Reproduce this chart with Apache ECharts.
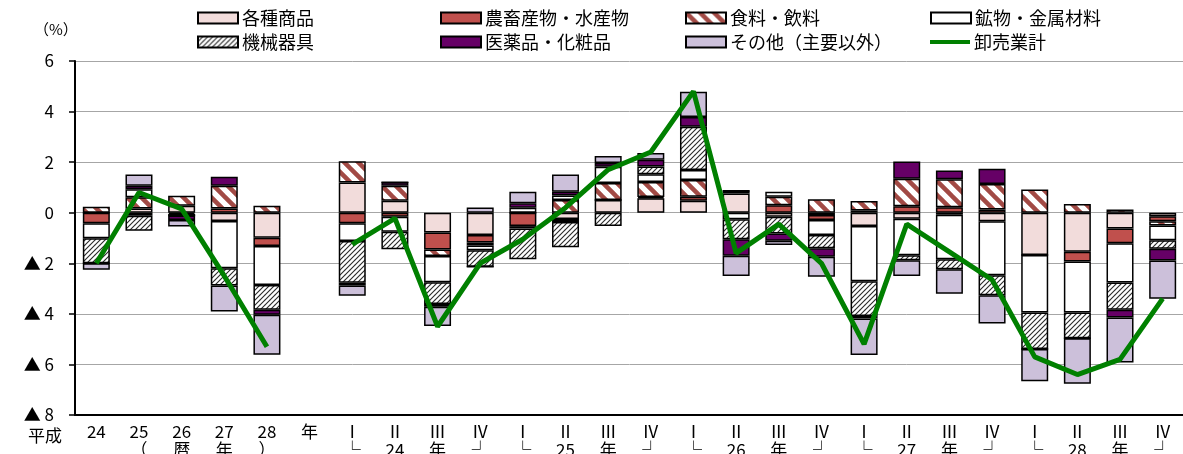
<!DOCTYPE html>
<html><head><meta charset="utf-8">
<script src="https://cdn.jsdelivr.net/npm/echarts@6/dist/echarts.min.js"></script>
<style>html,body{margin:0;padding:0;background:#fff;}#c{width:1183px;height:454px;}</style>
</head><body><div id="c"></div>
<script>
// ---- data ----
const catLine1 = ['24','25','26','27','28','年','Ⅰ','Ⅱ','Ⅲ','Ⅳ','Ⅰ','Ⅱ','Ⅲ','Ⅳ','Ⅰ','Ⅱ','Ⅲ','Ⅳ','Ⅰ','Ⅱ','Ⅲ','Ⅳ','Ⅰ','Ⅱ','Ⅲ','Ⅳ'];
const catLine2 = ['','（','暦','年','）','','└','24','年','┘','└','25','年','┘','└','26','年','┘','└','27','年','┘','└','28','年','┘'];
const seriesNames = ['各種商品','農畜産物・水産物','食料・飲料','鉱物・金属材料','機械器具','医薬品・化粧品','その他（主要以外）','卸売業計'];
const kakushu = [0, 0.17, 0.28, -0.33, -0.99, null, 1.19, 0.47, -0.78, -0.88, 0, -0.25, 0.50, 0.57, 0.47, 0.76, -0.16, -0.09, -0.53, -0.24, -0.08, -0.34, -1.67, -1.54, -0.62, -0.14];
const nochiku = [-0.42, -0.12, -0.05, 0.17, -0.33, null, -0.42, -0.16, -0.67, -0.30, -0.53, -0.12, 0, 0.05, 0.16, 0.11, 0.30, -0.20, 0.09, 0.26, 0.22, 0.13, 0, -0.39, -0.59, -0.20];
const shokuryo = [0.24, 0.44, 0.39, 0.90, 0.28, null, 0.85, 0.60, -0.26, -0.12, -0.09, 0.50, 0.68, 0.59, 0.66, 0, 0.33, 0.53, 0.37, 1.08, 1.10, 1.01, 0.92, 0.34, 0.13, -0.17];
const kobutsu = [-0.59, 0.32, -0.06, -1.87, -1.54, null, -0.70, -0.59, -1.04, -0.18, 0.20, 0.18, 0.64, 0.31, 0.40, -0.26, 0.20, -0.59, -2.18, -1.44, -1.76, -2.13, -2.28, -2.02, -1.55, -0.58];
const kikai = [-0.99, -0.59, 0, -0.68, -0.98, null, -1.65, -0.69, -0.86, -0.66, -1.22, -1.00, -0.53, 0.31, 1.71, -0.79, -0.66, -0.53, -1.37, -0.20, -0.40, -0.79, -1.44, -1.01, -1.08, -0.34];
const iyaku = [0, 0.14, -0.18, 0.35, -0.20, null, -0.11, 0.13, -0.11, 0, 0.17, 0.15, 0.15, 0.26, 0.39, -0.65, -0.29, -0.33, -0.10, 0.69, 0.35, 0.60, 0, 0, -0.30, -0.46];
const sonota = [-0.26, 0.44, -0.26, -1.03, -1.58, null, -0.40, 0, -0.76, 0.21, 0.46, 0.68, 0.27, 0.27, 0.99, -0.80, -0.17, -0.79, -1.45, -0.62, -0.96, -1.12, -1.28, -1.80, -1.78, -1.51];
const total = [-2.0, 0.8, 0.15, -2.5, -5.3, null, -1.25, -0.22, -4.5, -2.0, -1.05, 0.2, 1.7, 2.4, 4.8, -1.6, -0.45, -2.0, -5.2, -0.45, -1.55, -2.65, -5.7, -6.4, -5.8, -3.4];
const yTickValues = [-8, -6, -4, -2, 0, 2, 4, 6];
const yTickLabels = ['▲ 8', '▲ 6', '▲ 4', '▲ 2', '0', '2', '4', '6'];

// ---- patterns ----
function makePattern(size, color, width, dir) {
  const c = document.createElement('canvas');
  c.width = size; c.height = size;
  const g = c.getContext('2d');
  g.fillStyle = '#ffffff'; g.fillRect(0, 0, size, size);
  g.strokeStyle = color; g.lineWidth = width; g.lineCap = 'square';
  g.beginPath();
  for (let k = -1; k <= 1; k++) {
    if (dir === 'back') { g.moveTo(k * size, 0); g.lineTo(k * size + size, size); }
    else { g.moveTo(k * size, size); g.lineTo(k * size + size, 0); }
  }
  g.stroke();
  return { image: c, repeat: 'repeat' };
}
const stripeFood = makePattern(14, '#A24A45', 4.5, 'back');
const hatchMach = makePattern(5, '#2a2a2a', 1.1, 'fwd');

const FONT = '"Noto Sans CJK JP", "Noto Sans", sans-serif';
const colors = ['#F2DCDB', '#C0504D', stripeFood, '#FFFFFF', hatchMach, '#660066', '#CCC0DA'];
const barData = [kakushu, nochiku, shokuryo, kobutsu, kikai, iyaku, sonota];

const series = barData.map((d, i) => ({
  name: seriesNames[i], type: 'bar', stack: 'all', barWidth: 27, data: d,
  itemStyle: { color: colors[i], borderColor: '#000', borderWidth: 1.5 },
  emphasis: { disabled: true }
}));
series.push({
  name: seriesNames[7], type: 'line', data: total, symbol: 'none', showSymbol: false,
  connectNulls: false, z: 10,
  lineStyle: { color: '#008000', width: 5 }, itemStyle: { color: '#008000' },
  emphasis: { disabled: true }
});

const legendX = [197, 440, 685, 930];
const legendY = [9, 33];
const legends = seriesNames.map((n, i) => {
  const isLine = i === 7;
  return {
    data: [isLine ? { name: n, icon: 'rect', itemStyle: { color: '#008000', borderWidth: 0 } } : { name: n, icon: 'rect' }],
    left: legendX[i % 4], top: legendY[Math.floor(i / 4)],
    itemWidth: 40, itemHeight: isLine ? 4 : 11, itemGap: 4, padding: 0,
    selectedMode: false,
    textStyle: { fontSize: 18, color: '#000', fontFamily: FONT, padding: [0, 0, 0, -1] }
  };
});

const chart = echarts.init(document.getElementById('c'), null, { renderer: 'canvas' });
chart.setOption({
  animation: false,
  backgroundColor: '#fff',
  legend: legends,
  grid: { left: 75, top: 61, width: 1109, height: 354, containLabel: false, outerBoundsMode: 'none' },
  xAxis: {
    type: 'category',
    data: catLine1.map((_, i) => String(i)),
    boundaryGap: true,
    axisLine: { onZero: false, lineStyle: { color: '#000', width: 2 } },
    axisTick: { alignWithLabel: true, inside: true, length: 4, lineStyle: { color: '#000', width: 1.5 } },
    axisLabel: {
      interval: 0, margin: 8, color: '#000', fontSize: 17, fontFamily: FONT, lineHeight: 18,
      formatter: (v, i) => catLine1[i] + '\n' + (catLine2[i] || ' ')
    },
    splitLine: { show: false }
  },
  yAxis: {
    type: 'value', min: -8, max: 6, interval: 2,
    axisLine: { show: true, lineStyle: { color: '#000', width: 2 } },
    axisTick: { show: true, length: 6, lineStyle: { color: '#000', width: 1.5 } },
    axisLabel: {
      margin: 21, color: '#000', fontSize: 17, fontFamily: FONT,
      formatter: v => { const k = yTickValues.indexOf(v); return k >= 0 ? yTickLabels[k] : ''; }
    },
    splitLine: { show: true, lineStyle: { color: '#A6A6A6', width: 1 } }
  },
  graphic: [
    { type: 'text', left: 28, top: 427, style: { text: '平成', fontSize: 17, fontFamily: FONT, fill: '#000' } },
    { type: 'text', left: 34, top: 22, style: { text: '（%）', fontSize: 15, fontFamily: FONT, fill: '#000' } }
  ],
  series: series
});
</script></body></html>
